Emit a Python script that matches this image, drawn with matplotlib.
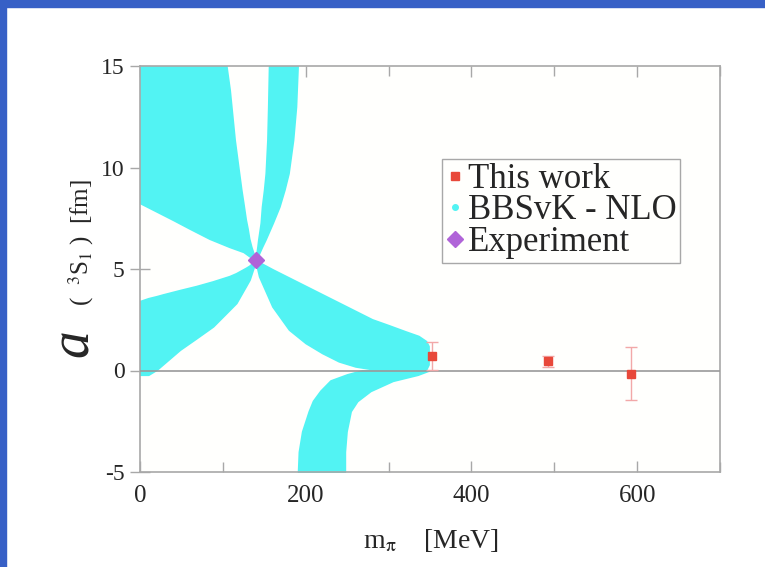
import matplotlib
matplotlib.use('Agg')
import matplotlib.pyplot as plt
from matplotlib.patches import Rectangle
from matplotlib.lines import Line2D

plt.rcParams['font.family'] = ['Liberation Serif', 'DejaVu Serif']
plt.rcParams['mathtext.fontset'] = 'stix'
plt.rcParams['axes.unicode_minus'] = False

# ---------------- data ----------------
# lattice results ("This work")
mpi_lattice = [353, 493, 593]
a_lattice = [0.70, 0.46, -0.16]
a_lattice_err = [0.68, 0.27, 1.30]

# experiment
mpi_exp = [139.6]
a_exp = [5.42]

# BBSvK - NLO band, boundaries of its branches
# upper-left branch (boundaries as functions of a)
bandA_a = [5.42, 5.85, 6.1, 6.5, 7.0, 7.43, 8.26, 8.9, 10.0, 11.36, 13.82, 15.0]
bandA_left = [139.6, 125, 108, 84, 60, 40, 0, 0, 0, 0, 0, 0]
bandA_right = [139.6, 136, 134, 131.5, 129.5, 127.4, 124.4, 122, 118.4, 114, 108, 104]

# upper-right narrow branch (functions of a)
bandC_a = [5.42, 6.1, 6.44, 7.28, 8.08, 8.9, 9.72, 11.36, 13.0, 15.0]
bandC_left = [139.6, 142, 143, 146, 147.5, 150, 152, 154, 155, 156]
bandC_right = [139.6, 147, 151, 160, 168, 174, 179, 184.5, 188, 190]

# lower-left branch (functions of m_pi)
bandB_m = [0, 10, 20, 28, 48, 68, 88, 108, 116, 128, 132, 139.6]
bandB_lo = [-0.2, -0.2, 0.05, 0.33, 1.03, 1.6, 2.18, 3.0, 3.33, 4.19, 4.48, 5.42]
bandB_hi = [3.41, 3.55, 3.65, 3.74, 3.95, 4.15, 4.38, 4.64, 4.78, 5.05, 5.15, 5.42]

# lower-right branch (functions of m_pi)
bandD_m = [139.6, 144, 160, 180, 200, 220, 240, 260, 280, 300, 320, 336, 345, 348]
bandD_hi = [5.42, 5.32, 4.97, 4.56, 4.15, 3.74, 3.33, 2.92, 2.51, 2.22, 1.92, 1.69, 1.44, 1.2]
bandD_lo = [5.42, 4.64, 3.16, 2.02, 1.36, 0.87, 0.46, 0.21, 0.08, 0.03, 0.02, 0.03, 0.05, 0.3]

# bottom branch (functions of a)
bandE_a = [-5.0, -4.0, -3.0, -2.0, -1.5, -1.0, -0.5, -0.2, 0.0]
bandE_left = [191, 192, 196, 204, 209, 218, 230, 250, 268]
bandE_right = [247, 247, 249, 254, 262, 278, 305, 335, 348]

x_ticks = [0, 200, 400, 600]
y_ticks = [-5, 0, 5, 10, 15]

# ---------------- styling ----------------
CYAN = '#52f3f3'
RED = '#e8483a'
ERR = '#f2a8a8'
PURPLE = '#b064d8'
FRAME = '#a8a8a8'
TXT = '#262626'

fig = plt.figure(figsize=(7.65, 5.67), dpi=100)
fig.patch.set_facecolor('white')

# blue page border (top and left)
fig.patches.append(Rectangle((0, 1 - 7 / 567), 1, 7 / 567, transform=fig.transFigure,
                             color='#3760c6', zorder=0))
fig.patches.append(Rectangle((0, 0), 6 / 765, 1, transform=fig.transFigure,
                             color='#3760c6', zorder=0))

ax = fig.add_axes([140 / 765, 1 - 472 / 567, 580 / 765, 406 / 567])
ax.set_facecolor('#fffffd')

for a_, l_, r_ in [(bandA_a, bandA_left, bandA_right),
                   (bandC_a, bandC_left, bandC_right),
                   (bandE_a, bandE_left, bandE_right)]:
    ax.fill_betweenx(a_, l_, r_, facecolor=CYAN, edgecolor=CYAN, lw=1.5, zorder=2)
for m_, lo_, hi_ in [(bandB_m, bandB_lo, bandB_hi),
                     (bandD_m, bandD_lo, bandD_hi)]:
    ax.fill_between(m_, lo_, hi_, facecolor=CYAN, edgecolor=CYAN, lw=1.5, zorder=2)

ax.axhline(0, color='#9a9a9a', lw=1.2, zorder=3)

ax.errorbar(mpi_lattice, a_lattice, yerr=a_lattice_err, fmt='none', ecolor=ERR,
            elinewidth=1.0, capsize=4.5, capthick=1.0, zorder=4)
ax.plot(mpi_lattice, a_lattice, 's', color=RED, ms=6, zorder=5)
ax.plot(mpi_exp, a_exp, 'D', color=PURPLE, ms=8, zorder=6)

ax.set_xlim(0, 700)
ax.set_ylim(-5, 15)
ax.set_xticks(x_ticks)
ax.set_xticks([100, 300, 500, 700], minor=True)
ax.set_yticks(y_ticks)

for s in ax.spines.values():
    s.set_color(FRAME)
    s.set_linewidth(1.2)

ax.tick_params(axis='x', which='both', direction='in', top=True, bottom=True,
               color=FRAME, width=1.0, labelsize=18, labelcolor=TXT, pad=9)
ax.tick_params(axis='x', which='major', length=8)
ax.tick_params(axis='x', which='minor', length=7)
ax.tick_params(axis='y', which='major', direction='inout', length=14, left=True,
               right=False, color=FRAME, width=1.0, labelsize=17, labelcolor=TXT, pad=4)

# axis labels
fig.text(431 / 765, 1 - 540 / 567, r'm$_{\mathrm{\pi}}$    [MeV]', ha='center', va='center',
         fontsize=20, color=TXT)
fig.text(88 / 765, 1 - 343 / 567, 'a', rotation=90, rotation_mode='anchor',
         ha='center', va='baseline', fontsize=40, style='italic', color=TXT)
fig.text(88 / 765, 1 - 243 / 567, r'(  $^{3}$S$_{1}$ )  [fm]', rotation=90,
         rotation_mode='anchor', ha='center', va='baseline', fontsize=18, color=TXT)

handles = [
    Line2D([], [], ls='none', marker='s', color=RED, ms=6),
    Line2D([], [], ls='none', marker='o', color=CYAN, ms=4),
    Line2D([], [], ls='none', marker='D', color=PURPLE, ms=8),
]
labels = ['This work', 'BBSvK - NLO', 'Experiment']
leg = ax.legend(handles, labels, loc='upper left',
                bbox_to_anchor=(442 / 765, 1 - 159 / 567), bbox_transform=fig.transFigure,
                fontsize=25, frameon=True, fancybox=False, framealpha=1,
                edgecolor=FRAME, facecolor='#fffffd', borderpad=0.12,
                labelspacing=-0.05, handlelength=0.5, handletextpad=0.12,
                borderaxespad=0)
leg.get_frame().set_linewidth(1.0)
for t in leg.get_texts():
    t.set_color(TXT)

fig.savefig('out.png', dpi=100)
